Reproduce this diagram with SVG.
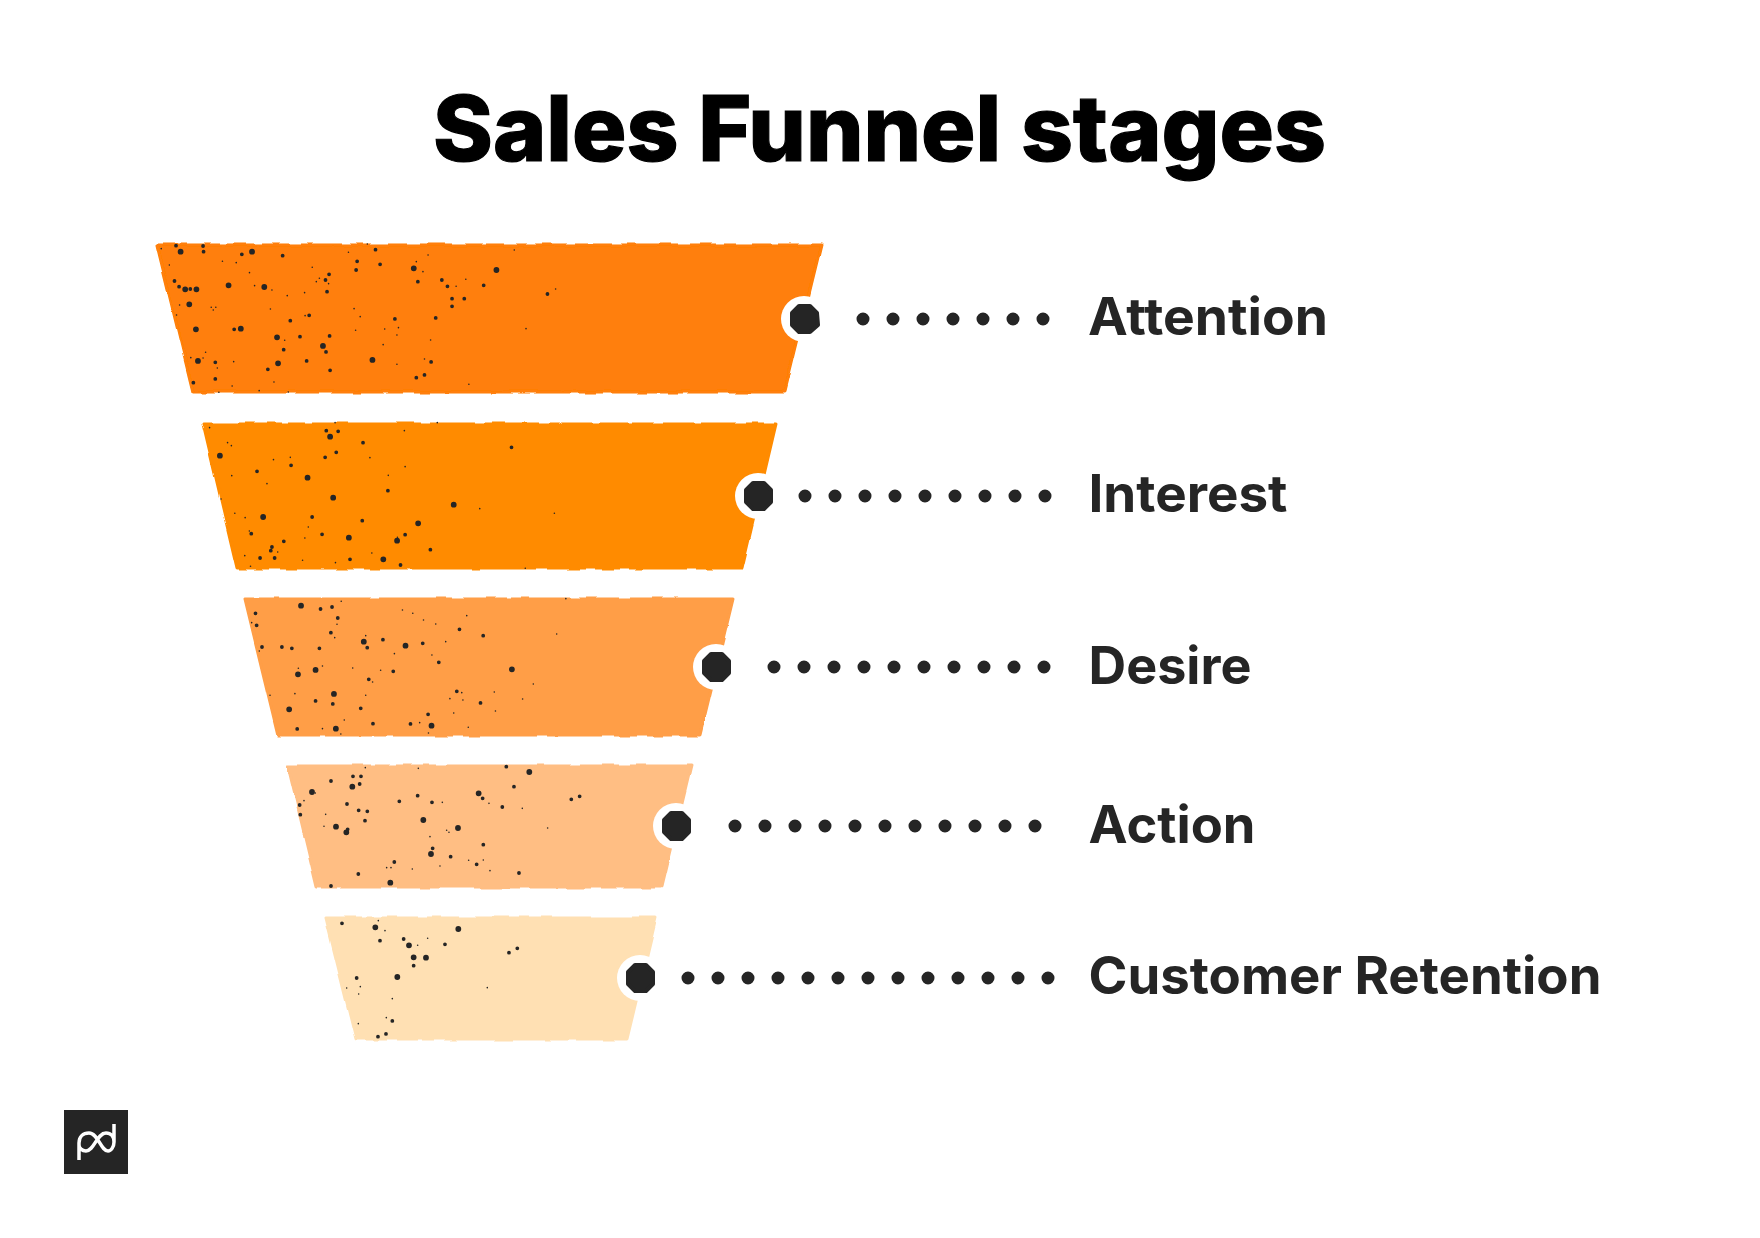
<svg xmlns="http://www.w3.org/2000/svg" width="1760" height="1238" viewBox="0 0 1760 1238">
<style>
.title{font-family:"Inter","Liberation Sans",sans-serif;font-weight:800;font-size:91px;fill:#000;stroke:#000;stroke-width:1.2}
.label{font-family:"Inter","Liberation Sans",sans-serif;font-weight:700;font-size:52px;fill:#252525}
.band{stroke-width:3;stroke-linejoin:round;filter:url(#rough)}
.halo{fill:#fff}
.dot{fill:#252525;stroke:#252525;stroke-width:4;stroke-linejoin:round}
.leader{fill:none;stroke:#252525;stroke-width:13;stroke-linecap:round;stroke-dasharray:0 30}
.sp{fill:none;stroke:#252525;stroke-linecap:round;vector-effect:non-scaling-stroke}
.l{stroke-width:5.8}.m{stroke-width:3.8}.s{stroke-width:1.6}
</style>
<defs>
<filter id="rough" x="-5%" y="-5%" width="110%" height="110%">
<feTurbulence type="fractalNoise" baseFrequency="0.06 0.03" numOctaves="1" seed="4"/>
<feDisplacementMap in="SourceGraphic" scale="5" xChannelSelector="R" yChannelSelector="G"/>
</filter>
</defs>
<rect width="1760" height="1238" fill="#fff"/>
<text class="title" x="879.500" y="161" text-anchor="middle" textLength="893" lengthAdjust="spacingAndGlyphs">Sales Funnel stages</text>
<g id="stage-attention">
<polygon class="band" fill="#ff7f07" stroke="#ff7f07" points="157,245 821,245 785,392 193,392"/>
<g transform="translate(100,60) scale(.5102,.3333)">
<path class="sp l" d="M158 575h0M298 575h0M322 681h0M167 688h0M189 688h0M252 676h0M192 903h0M188 808h0M349 910h0M437 858h0M534 900h0M615 625h0M777 630h0M347 832h0M276 806h0M175 733h0"/>
<path class="sp m" d="M149 557h0M202 558h0M203 575h0M278 583h0M358 587h0M504 604h0M502 630h0M549 613h0M540 569h0M442 660h0M449 643h0M146 663h0M155 680h0M177 687h0M263 808h0M373 782h0M410 766h0M445 695h0M623 665h0M681 679h0M752 676h0M670 660h0M690 716h0M714 716h0M690 739h0M658 774h0M578 777h0M877 702h0M226 957h0M226 907h0M329 928h0M360 869h0M405 903h0M443 876h0M451 931h0M649 906h0M620 953h0M636 945h0M183 968h0M392 830h0M450 828h0"/>
<path class="sp s" d="M120 566h0M136 615h0M240 604h0M267 608h0M293 638h0M416 622h0M430 655h0M424 665h0M448 671h0M303 677h0M337 690h0M367 707h0M401 698h0M487 577h0M643 585h0M620 605h0M633 635h0M717 658h0M698 679h0M893 687h0M812 570h0M156 735h0M218 742h0M222 750h0M227 742h0M334 747h0M150 765h0M402 767h0M498 746h0M510 770h0M585 803h0M558 807h0M501 811h0M582 825h0M555 854h0M648 840h0M835 806h0M362 841h0M207 877h0M178 893h0M202 894h0M262 905h0M230 924h0M341 966h0M259 978h0M233 997h0M312 992h0M369 996h0M582 913h0M636 897h0M723 973h0M524 552h0"/>
</g>
<circle class="halo" cx="804" cy="319" r="23"/>
<polygon class="dot" points="799,306 810,306 817,313 818,325 810,332 799,332 792,325 792,313"/>
<text class="label" x="1088" y="335" textLength="240" lengthAdjust="spacingAndGlyphs">Attention</text>
</g>
<g id="stage-interest">
<polygon class="band" fill="#ff8b00" stroke="#ff8b00" points="203,424 776,424 742,568 237,568"/>
<g transform="translate(200,400) scale(.3827,.3333)">
<path class="sp l" d="M52 167h0M340 110h0M281 233h0M165 351h0M570 370h0M663 314h0M389 413h0M479 478h0M348 293h0M515 422h0"/>
<path class="sp m" d="M330 92h0M361 94h0M356 157h0M426 128h0M327 172h0M238 196h0M149 214h0M491 272h0M814 142h0M293 351h0M134 401h0M319 403h0M219 424h0M188 441h0M185 452h0M195 474h0M157 474h0M392 478h0M524 495h0M602 449h0M536 404h0M424 362h0"/>
<path class="sp s" d="M25 83h0M72 128h0M82 137h0M353 68h0M534 92h0M620 68h0M192 179h0M236 172h0M444 173h0M536 200h0M492 226h0M83 227h0M175 251h0M91 340h0M118 353h0M55 297h0M731 326h0M926 340h0M283 381h0M129 393h0M274 414h0M516 412h0M203 456h0M117 467h0M268 481h0M354 488h0M449 459h0M132 499h0M850 505h0"/>
</g>
<circle class="halo" cx="758" cy="496" r="23"/>
<polygon class="dot" points="753,483 764,483 771,490 771,502 764,509 753,509 746,502 746,490"/>
<text class="label" x="1088.500" y="512" textLength="199" lengthAdjust="spacingAndGlyphs">Interest</text>
</g>
<g id="stage-desire">
<polygon class="band" fill="#ff9e46" stroke="#ff9e46" points="245,599 733,599 700,735 278,735"/>
<g transform="translate(200,400) scale(.3827,.3333)">
<path class="sp l" d="M264 617h0M428 725h0M537 737h0M302 810h0M256 823h0M350 882h0M233 928h0M815 808h0M355 986h0M605 977h0"/>
<path class="sp m" d="M145 640h0M315 627h0M345 621h0M360 654h0M148 676h0M342 698h0M162 741h0M214 741h0M240 745h0M437 743h0M478 719h0M582 730h0M740 707h0M678 688h0M624 787h0M505 814h0M441 838h0M347 912h0M302 903h0M420 925h0M596 943h0M550 972h0M452 971h0M733 909h0M671 874h0M254 987h0M312 745h0"/>
<path class="sp s" d="M369 604h0M529 630h0M556 640h0M697 647h0M584 660h0M616 672h0M135 668h0M358 673h0M352 713h0M433 707h0M642 725h0M932 702h0M508 761h0M606 765h0M155 753h0M320 798h0M257 805h0M399 804h0M472 811h0M451 846h0M871 852h0M183 886h0M248 881h0M433 886h0M684 878h0M769 876h0M653 896h0M687 900h0M843 897h0M772 933h0M663 939h0M377 960h0M574 968h0M701 982h0M320 986h0M368 1002h0M597 999h0M956 596h0"/>
</g>
<circle class="halo" cx="716" cy="667" r="23"/>
<polygon class="dot" points="711,654 722,654 729,661 729,673 722,680 711,680 704,673 704,661"/>
<text class="label" x="1088.500" y="684" textLength="163" lengthAdjust="spacingAndGlyphs">Desire</text>
</g>
<g id="stage-action">
<polygon class="band" fill="#ffbe83" stroke="#ffbe83" points="288,766 691,766 662,887 317,887"/>
<g transform="translate(280,740) scale(.3333)">
<path class="sp l" d="M217 140h0M96 156h0M168 260h0M199 277h0M430 240h0M534 264h0M596 160h0M331 428h0M748 96h0M453 342h0"/>
<path class="sp m" d="M219 109h0M243 109h0M153 123h0M239 132h0M59 195h0M61 224h0M201 192h0M236 211h0M262 214h0M255 242h0M203 268h0M358 184h0M413 167h0M456 187h0M608 175h0M667 201h0M702 140h0M679 80h0M874 178h0M899 169h0M458 325h0M610 314h0M512 350h0M343 366h0M590 373h0M235 402h0M717 399h0M153 438h0"/>
<path class="sp s" d="M256 83h0M415 85h0M72 182h0M106 159h0M137 223h0M132 259h0M487 187h0M627 190h0M727 205h0M803 264h0M450 290h0M500 271h0M507 277h0M566 361h0M610 360h0M320 383h0M333 383h0M397 387h0M480 378h0M630 392h0"/>
</g>
<circle class="halo" cx="676" cy="826" r="23"/>
<polygon class="dot" points="671,813 682,813 689,820 689,832 682,839 671,839 664,832 664,820"/>
<text class="label" x="1088.500" y="843" textLength="167" lengthAdjust="spacingAndGlyphs">Action</text>
</g>
<g id="stage-retention">
<polygon class="band" fill="#ffe0b3" stroke="#ffe0b3" points="326,918 656,918 627,1039 356,1039"/>
<g transform="translate(280,740) scale(.3333)">
<path class="sp l" d="M286 562h0M535 567h0M352 711h0M401 652h0M438 653h0M387 616h0"/>
<path class="sp m" d="M186 550h0M300 602h0M371 597h0M495 613h0M687 638h0M712 625h0M401 677h0M230 714h0M337 843h0M318 882h0M294 890h0"/>
<path class="sp s" d="M295 542h0M315 572h0M413 616h0M443 595h0M200 744h0M241 740h0M236 762h0M337 776h0M622 743h0M319 833h0M235 851h0"/>
</g>
<circle class="halo" cx="640" cy="978" r="23"/>
<polygon class="dot" points="635,965 646,965 653,972 653,984 646,991 635,991 628,984 628,972"/>
<text class="label" x="1088.500" y="994" textLength="513" lengthAdjust="spacingAndGlyphs">Customer Retention</text>
</g>
<g id="connectors">
<path class="leader" d="M863 319H1048"/>
<path class="leader" d="M805 496H1050"/>
<path class="leader" d="M774 667H1050"/>
<path class="leader" d="M735 826H1041"/>
<path class="leader" d="M688 978H1053"/>
</g>
<g id="logo">
<rect x="64" y="1110" width="64" height="64" fill="#252525"/>
<path d="M79 1160V1143C79 1137 83 1133 89 1133C98 1133 101 1151 108 1151C111 1151 114 1147 114 1142C114 1137 111 1133 106 1133C97 1133 94 1151 86 1151C82 1151 79 1148 79 1145M114 1142V1124" fill="none" stroke="#fff" stroke-width="3.500"/>
</g>
</svg>
